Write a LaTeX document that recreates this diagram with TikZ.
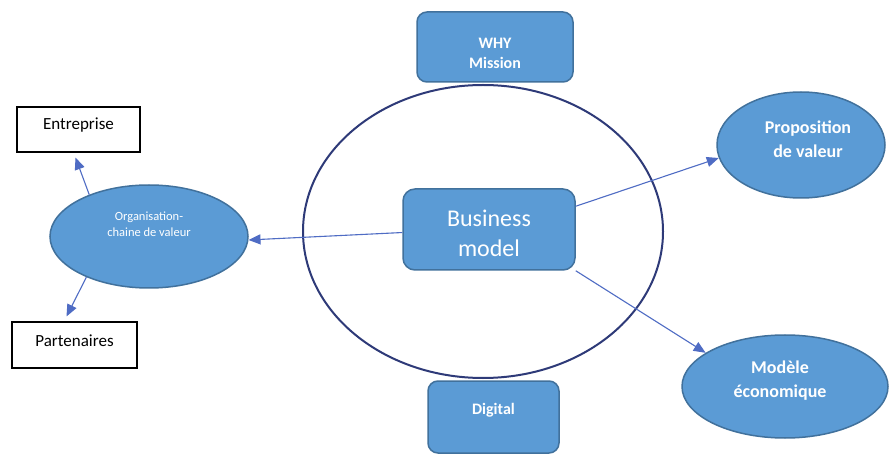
\documentclass[tikz,border=0pt]{standalone}
\usepackage{fontspec}
\setmainfont{Carlito}
\usetikzlibrary{arrows.meta,calc,shapes.geometric}
\definecolor{fillblue}{HTML}{5B9BD5}
\definecolor{edgeblue}{HTML}{41719C}
\definecolor{arrowblue}{HTML}{4F6CC4}
\definecolor{navy}{HTML}{2E3A78}
\tikzset{
  bluebox/.style={draw=edgeblue, line width=1.5pt, fill=fillblue, rounded corners=10pt, inner sep=0pt},
  blueell/.style={draw=edgeblue, line width=1.5pt, fill=fillblue, ellipse, inner sep=0pt},
  whitebox/.style={draw=black, line width=1.1pt, fill=white, inner sep=0pt},
  wtxt/.style={text=white, align=center, inner sep=0pt},
  btxt/.style={text=black, align=center, inner sep=0pt},
  conn/.style={draw=arrowblue, line width=1.1pt, -{Triangle[length=12pt,width=10pt]}},
}
\begin{document}
\begin{tikzpicture}[x=1pt,y=-1pt]
\useasboundingbox[fill=white] (0,0) rectangle (889,454);
% big ellipse
\node[draw=navy, line width=2pt, ellipse, minimum width=360pt, minimum height=293pt, inner sep=0pt] (big) at (483,231.5) {};
% shapes
\node[bluebox, minimum width=156pt, minimum height=70pt] (why) at (495,47) {};
\node[wtxt, font=\bfseries\fontsize{16}{20}\selectfont] (whyt) at (495,53) {WHY\\Mission};
\node[bluebox, rounded corners=12pt, minimum width=172pt, minimum height=81pt] (bm) at (489,229.5) {};
\node[wtxt, font=\fontsize{24}{30}\selectfont] (bmt) at (489,233) {Business\\model};
\node[bluebox, minimum width=131pt, minimum height=72pt] (dig) at (493.5,417) {};
\node[wtxt, font=\bfseries\fontsize{16}{20}\selectfont] (digt) at (493.5,410) {Digital};
\node[blueell, minimum width=198pt, minimum height=103pt] (org) at (149,236.5) {};
\node[wtxt, font=\fontsize{12.5}{16}\selectfont] (orgt) at (149,224) {Organisation-\\chaine de valeur};
\node[blueell, minimum width=168pt, minimum height=106pt] (prop) at (801,145) {};
\node[wtxt, font=\bfseries\fontsize{18}{24}\selectfont] (propt) at (808,139) {Proposition\\de valeur};
\node[blueell, minimum width=206pt, minimum height=103pt] (mod) at (785,386.5) {};
\node[wtxt, font=\bfseries\fontsize{18}{24}\selectfont] (modt) at (780,381) {Modèle\\économique};
\node[whitebox, minimum width=123pt, minimum height=45pt] (ent) at (78.5,129.5) {};
\node[btxt, font=\fontsize{17}{20}\selectfont] (entt) at (78.5,125) {Entreprise};
\node[whitebox, minimum width=125pt, minimum height=46pt] (par) at (74.5,345) {};
\node[btxt, font=\fontsize{17}{20}\selectfont] (part) at (74.5,341) {Partenaires};
% connectors
\draw[conn] (bm.182) -- (org.358);
\draw[conn] (bm.15) -- (prop.189);
\draw[conn] (bm.south east) -- (mod.157);
\draw[conn] (org.145) -- ($(ent.south)+(-3,5)$);
\draw[conn] (org.213) -- ($(par.north)+(-8,-5)$);
\end{tikzpicture}
\end{document}
